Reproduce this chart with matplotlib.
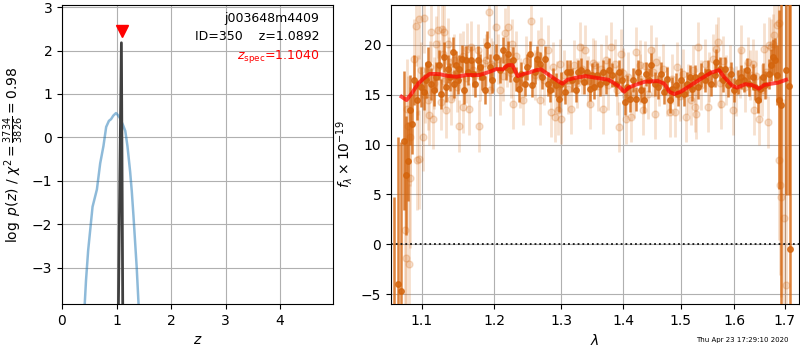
import matplotlib
matplotlib.use("Agg")
import matplotlib.pyplot as plt
from matplotlib.ticker import NullLocator, FixedLocator

# ---------------- Left panel data: p(z) ----------------
blue_z = [0.41, 0.44, 0.48, 0.52, 0.56, 0.60, 0.64, 0.70, 0.76, 0.81, 0.86,
          0.90, 0.94, 0.99, 1.02, 1.06, 1.12, 1.16, 1.20, 1.25, 1.28, 1.31,
          1.34, 1.37, 1.41]
blue_logp = [-4.0, -3.3, -2.6, -2.1, -1.6, -1.4, -1.2, -0.6, -0.2, 0.24, 0.38,
             0.42, 0.50, 0.56, 0.52, 0.45, 0.28, 0.15, -0.2, -0.8, -1.25, -1.8,
             -2.4, -3.0, -4.0]
spike_z = [1.033, 1.0892, 1.114]
spike_logp = [-4.0, 2.18, -4.0]
z_spec = 1.1040
z_spec_marker_y = 2.45
field_name = "j003648m4409"
obj_id = 350
z_best = 1.0892

# ---------------- Right panel data: spectrum ----------------
bin_wave = [1.0641, 1.0692, 1.0727, 1.0769, 1.0791, 1.0823, 1.0841, 1.0873, 1.0899,
            1.0935, 1.0987, 1.1031, 1.1053, 1.1084, 1.1119, 1.1156, 1.1186, 1.1223,
            1.1254, 1.1290, 1.1321, 1.1344, 1.1379, 1.1412, 1.1434, 1.1457, 1.1480,
            1.1502, 1.1536, 1.1563, 1.1595, 1.1627, 1.1665, 1.1689, 1.1721, 1.1759,
            1.1795, 1.1829, 1.1866, 1.1900, 1.1933, 1.1972, 1.2029, 1.2077, 1.2125,
            1.2165, 1.2198, 1.2233, 1.2272, 1.2311, 1.2360, 1.2395, 1.2445, 1.2479,
            1.2530, 1.2560, 1.2595, 1.2629, 1.2670, 1.2711, 1.2746, 1.2796, 1.2833,
            1.2873, 1.2926, 1.2966, 1.3003, 1.3055, 1.3091, 1.3133, 1.3176, 1.3228,
            1.3264, 1.3318, 1.3360, 1.3408, 1.3452, 1.3496, 1.3517, 1.3570, 1.3614,
            1.3668, 1.3724, 1.3767, 1.3823, 1.3878, 1.3932, 1.3989, 1.4028, 1.4066,
            1.4124, 1.4168, 1.4214, 1.4253, 1.4311, 1.4351, 1.4397, 1.4442, 1.4484,
            1.4541, 1.4598, 1.4658, 1.4698, 1.4756, 1.4804, 1.4852, 1.4911, 1.4953,
            1.5014, 1.5060, 1.5114, 1.5163, 1.5212, 1.5255, 1.5315, 1.5377, 1.5439,
            1.5500, 1.5563, 1.5625, 1.5656, 1.5718, 1.5780, 1.5831, 1.5875, 1.5940,
            1.6003, 1.6067, 1.6132, 1.6196, 1.6241, 1.6293, 1.6358, 1.6411, 1.6456,
            1.6503, 1.6555, 1.6609, 1.6674, 1.6722, 1.6768, 1.6808, 1.6835, 1.6875,
            1.6923, 1.7017, 1.7087, 1.7108]
bin_flux = [-6.8, -3.95, -4.7, 10.4, 6.9, 8.3, 13.45, 12.1, 16.5,
            14.5, 15.8, 15.3, 16.5, 18.1, 16.1, 15.5, 16.8, 18.0,
            15.1, 18.8, 15.8, 17.6, 16.8, 19.3, 16.1, 18.0, 16.5,
            17.6, 18.6, 15.5, 18.5, 17.3, 18.5, 17.1, 16.1, 18.5,
            17.8, 16.8, 15.5, 20.0, 17.8, 16.5, 18.8, 17.5, 19.5,
            17.8, 19.1, 17.5, 18.5, 16.6, 15.6, 17.1, 16.1, 17.8,
            19.1, 16.0, 17.3, 18.6, 18.1, 16.8, 18.6, 16.1, 15.5,
            16.5, 16.0, 14.6, 16.1, 15.3, 17.3, 17.3, 16.5, 15.5,
            17.3, 17.5, 16.3, 17.3, 15.6, 17.0, 15.8, 17.0, 16.1,
            17.3, 16.3, 17.5, 17.0, 16.1, 17.3, 16.5, 14.3, 15.8,
            14.6, 16.5, 14.6, 17.3, 15.5, 14.5, 17.1, 16.5, 18.0,
            16.1, 15.8, 17.1, 15.3, 16.6, 14.5, 15.6, 16.0, 15.1,
            16.5, 15.1, 16.1, 16.8, 15.6, 16.8, 15.8, 17.0, 16.5,
            17.3, 16.1, 17.0, 18.3, 17.6, 16.5, 17.6, 16.0, 17.1,
            15.5, 16.3, 16.8, 16.5, 17.5, 16.1, 16.8, 15.8, 14.5,
            15.6, 16.8, 16.0, 17.1, 18.0, 18.8, 18.5, 17.0, 14.5,
            14.0, 17.5, 15.9, -0.5]
bin_err = [11.5, 14.7, 15.0, 7.0, 6.0, 4.0, 3.5, 3.0, 2.5,
           2.0, 2.0, 1.8, 1.8, 1.7, 1.6, 1.6, 1.5, 1.5,
           1.5, 1.5, 1.5, 1.4, 1.4, 1.5, 1.4, 1.4, 1.4,
           1.4, 1.4, 1.4, 1.4, 1.3, 1.4, 1.3, 1.3, 1.4,
           1.3, 1.3, 1.4, 1.4, 1.3, 1.3, 1.3, 1.3, 1.3,
           1.3, 1.3, 1.2, 1.3, 1.2, 1.3, 1.2, 1.2, 1.3,
           1.3, 1.2, 1.2, 1.3, 1.2, 1.2, 1.3, 1.2, 1.2,
           1.2, 1.2, 1.3, 1.2, 1.2, 1.2, 1.2, 1.2, 1.2,
           1.2, 1.2, 1.2, 1.2, 1.2, 1.2, 1.2, 1.2, 1.2,
           1.2, 1.2, 1.2, 1.2, 1.2, 1.2, 1.2, 1.3, 1.2,
           1.3, 1.2, 1.2, 1.2, 1.2, 1.3, 1.2, 1.2, 1.2,
           1.2, 1.2, 1.2, 1.2, 1.2, 1.3, 1.2, 1.2, 1.2,
           1.2, 1.2, 1.2, 1.2, 1.2, 1.2, 1.2, 1.2, 1.2,
           1.2, 1.2, 1.2, 1.3, 1.2, 1.2, 1.2, 1.2, 1.2,
           1.2, 1.2, 1.2, 1.2, 1.2, 1.2, 1.3, 1.3, 1.3,
           1.3, 1.4, 1.4, 1.5, 1.6, 1.8, 2.2, 3.0, 9.0,
           20.0, 12.6, 11.0, 30.0]

raw_wave = [1.0779, 1.0791, 1.0834, 1.0843, 1.0804, 1.0821, 1.0847, 1.0899, 1.0922,
            1.0939, 1.0965, 1.0968, 1.1009, 1.1022, 1.1075, 1.1096, 1.1119, 1.1142,
            1.1186, 1.1209, 1.1254, 1.1263, 1.1276, 1.1298, 1.1321, 1.1344, 1.1389,
            1.1434, 1.1502, 1.1509, 1.1549, 1.1618, 1.1641, 1.1665, 1.1759, 1.1781,
            1.1877, 1.1923, 1.1947, 1.1933, 1.2029, 1.2077, 1.2150, 1.2198, 1.2248,
            1.2272, 1.2419, 1.2545, 1.2670, 1.2696, 1.2796, 1.2848, 1.2899, 1.2951,
            1.2977, 1.3003, 1.3160, 1.3291, 1.3372, 1.3452, 1.3533, 1.3668, 1.3724,
            1.3806, 1.3932, 1.3972, 1.4056, 1.4141, 1.4226, 1.4282, 1.4339, 1.4484,
            1.4541, 1.4570, 1.4804, 1.4894, 1.4935, 1.5104, 1.5194, 1.5255, 1.5286,
            1.5315, 1.5500, 1.5656, 1.5687, 1.5750, 1.5971, 1.6132, 1.6261, 1.6358,
            1.6391, 1.6489, 1.6588, 1.6654, 1.6688, 1.6722, 1.6754, 1.6788, 1.6835,
            1.6889, 1.6890, 1.6899, 1.6923, 1.6991, 1.7025,
            1.0950, 1.0990, 1.1045, 1.1110, 1.1160, 1.1230, 1.1300, 1.1360, 1.1420,
            1.1470, 1.1550, 1.1600, 1.1700, 1.1800, 1.1850, 1.1980, 1.2050, 1.2120,
            1.2180, 1.2240, 1.2320, 1.2380, 1.2460, 1.2600, 1.2640, 1.2740, 1.2870,
            1.2930, 1.3040, 1.3100, 1.3200, 1.3250, 1.3330, 1.3420, 1.3500, 1.3580,
            1.3640, 1.3750, 1.3860, 1.3900, 1.4000, 1.4090, 1.4180, 1.4280, 1.4380,
            1.4420, 1.4520, 1.4620, 1.4680, 1.4760, 1.4850, 1.4990, 1.5040, 1.5130,
            1.5220, 1.5380, 1.5450, 1.5530, 1.5600, 1.5720, 1.5790, 1.5850, 1.5920,
            1.6030, 1.6100, 1.6200, 1.6300, 1.6420, 1.6530, 1.6620]
raw_flux = [1.4, -1.4, -2.0, 6.6, 13.6, 11.9, 10.8, 18.6, 21.9,
            8.4, 8.5, 22.6, 10.8, 22.7, 14.5, 12.95, 21.3, 12.6,
            20.1, 21.5, 14.3, 21.6, 19.1, 21.3, 13.45, 20.1, 14.6,
            18.5, 11.9, 18.6, 13.8, 19.6, 13.6, 19.8, 19.5, 11.9,
            18.5, 23.3, 18.1, 15.5, 21.8, 15.5, 21.2, 21.8, 20.1,
            14.1, 14.5, 22.4, 14.5, 20.3, 19.5, 13.3, 12.8, 13.45,
            18.1, 12.6, 13.6, 19.8, 19.5, 14.1, 18.0, 13.6, 18.5,
            19.8, 11.8, 19.1, 12.6, 12.8, 19.3, 18.0, 13.45, 19.5,
            13.1, 18.3, 13.3, 13.3, 17.8, 12.8, 14.5, 13.8, 13.1,
            19.8, 13.8, 19.6, 20.3, 14.1, 13.45, 19.5, 18.3, 18.1,
            13.45, 12.6, 19.6, 12.3, 20.0, 19.8, 20.1, 21.0, 22.0,
            22.2, 8.4, 5.9, 4.75, 2.6, -4.1,
            16.0, 17.5, 15.0, 17.8, 16.2, 17.9, 16.4, 18.3, 17.0,
            15.8, 18.9, 16.7, 17.5, 16.9, 18.2, 17.9, 18.6, 16.9,
            18.3, 17.2, 18.9, 16.2, 18.4, 17.0, 19.0, 16.5, 17.8,
            15.9, 17.0, 15.6, 18.0, 16.2, 17.6, 16.4, 18.2, 15.9,
            17.6, 16.0, 18.1, 15.5, 17.2, 16.8, 15.2, 16.6, 17.9,
            15.1, 17.3, 16.4, 17.6, 15.4, 16.6, 14.9, 17.1, 15.6,
            17.5, 16.0, 18.1, 16.8, 18.6, 16.2, 18.4, 16.5, 17.5,
            15.4, 17.2, 15.8, 17.0, 16.9, 15.5, 17.3]
raw_err = [9.0, 8.0, 8.0, 7.0, 5.0, 5.0, 5.0, 4.0, 4.0,
           5.0, 5.0, 4.0, 3.5, 3.5, 3.0, 3.0, 3.0, 3.0,
           2.8, 2.8, 2.8, 2.8, 2.8, 2.8, 2.8, 2.6, 2.6,
           2.6, 2.6, 2.6, 2.6, 2.6, 2.6, 2.6, 2.6, 2.6,
           2.6, 2.6, 2.6, 2.6, 2.5, 2.5, 2.5, 2.5, 2.5,
           2.5, 2.5, 2.5, 2.5, 2.5, 2.5, 2.5, 2.5, 2.5,
           2.5, 2.5, 2.5, 2.5, 2.5, 2.5, 2.5, 2.5, 2.5,
           2.5, 2.5, 2.5, 2.5, 2.5, 2.5, 2.5, 2.5, 2.5,
           2.5, 2.5, 2.5, 2.5, 2.5, 2.5, 2.5, 2.5, 2.5,
           2.5, 2.5, 2.5, 2.5, 2.5, 2.5, 2.5, 2.5, 2.5,
           2.5, 2.6, 2.6, 2.6, 2.8, 2.8, 3.0, 3.2, 3.5,
           4.0, 8.0, 9.0, 10.0, 12.0, 14.0,
           3.0, 2.8, 2.8, 2.6, 2.6, 2.6, 2.6, 2.5, 2.5,
           2.5, 2.5, 2.5, 2.5, 2.5, 2.5, 2.5, 2.5, 2.5,
           2.5, 2.5, 2.5, 2.5, 2.5, 2.5, 2.5, 2.5, 2.5,
           2.5, 2.5, 2.5, 2.5, 2.5, 2.5, 2.5, 2.5, 2.5,
           2.5, 2.5, 2.5, 2.5, 2.5, 2.5, 2.5, 2.5, 2.5,
           2.5, 2.5, 2.5, 2.5, 2.5, 2.5, 2.5, 2.5, 2.5,
           2.5, 2.5, 2.5, 2.5, 2.5, 2.5, 2.5, 2.5, 2.5,
           2.5, 2.5, 2.5, 2.5, 2.6, 2.6, 2.6]

model_wave = [1.0735, 1.0799, 1.0864, 1.095, 1.1017, 1.1106, 1.124, 1.1329, 1.1465,
              1.160, 1.1786, 1.193, 1.2026, 1.212, 1.2197, 1.226, 1.234, 1.242,
              1.2518, 1.2617, 1.269, 1.2793, 1.292, 1.302, 1.310, 1.323, 1.3387,
              1.3546, 1.376, 1.392, 1.402, 1.4088, 1.420, 1.437, 1.460, 1.4713,
              1.480, 1.4889, 1.5005, 1.519, 1.537, 1.5555, 1.571, 1.58, 1.596,
              1.605, 1.6215, 1.6348, 1.648, 1.658, 1.672, 1.6857, 1.7025]
model_flux = [14.8, 14.46, 15.1, 16.1, 16.6, 17.1, 17.06, 16.9, 16.8,
              16.97, 16.97, 17.3, 17.57, 17.54, 17.97, 17.97, 16.87, 17.07,
              17.24, 17.47, 17.54, 17.07, 16.5, 16.1, 16.5, 16.7, 16.87,
              16.7, 16.5, 15.9, 15.3, 15.7, 15.96, 16.3, 16.37, 16.1,
              15.3, 15.06, 15.3, 15.96, 16.6, 17.2, 17.47, 16.8, 15.9,
              15.7, 16.06, 15.96, 15.6, 15.96, 16.1, 16.2, 16.5]

wave_ticks = [1.1, 1.2, 1.3, 1.4, 1.5, 1.6, 1.7]
wave_ticklabels = ["1.1", "1.2", "1.3", "1.4", "1.5", "1.6", "1.7"]
timestamp = "Thu Apr 23 17:29:10 2020"

orange = "#d4640c"

fig = plt.figure(figsize=(8, 3.5), dpi=100)
ax1 = fig.add_axes([0.0775, 0.1314, 0.3388, 0.8543])
ax2 = fig.add_axes([0.48875, 0.1314, 0.5100, 0.8543])

# ---- left panel ----
ax1.plot(blue_z, blue_logp, color="#1f77b4", alpha=0.5, lw=1.8)
ax1.plot(spike_z, spike_logp, color="0.25", lw=2)
ax1.plot([z_spec], [z_spec_marker_y], marker="v", color="r", ms=8, ls="none")
ax1.set_xlim(0, 4.97)
ax1.set_ylim(-3.84, 3.05)
ax1.set_xticks([0, 1, 2, 3, 4])
ax1.set_yticks([-3, -2, -1, 0, 1, 2, 3])
ax1.grid(True)
ax1.set_axisbelow(True)
ax1.set_xlabel(r"$z$")
ax1.set_ylabel(r"$\log\ p(z)$ / $\chi^2=\frac{3734}{3826}=0.98$")
ax1.text(0.95, 0.975, field_name, transform=ax1.transAxes, ha="right", va="top",
         fontsize=9)
ax1.text(0.95, 0.915, f"ID={obj_id}    z={z_best:.4f}", transform=ax1.transAxes,
         ha="right", va="top", fontsize=9)
ax1.text(0.95, 0.855, r"$z_\mathrm{spec}$" + f"={z_spec:.4f}",
         transform=ax1.transAxes, ha="right", va="top", fontsize=9, color="r")

# ---- right panel ----
ax2.errorbar(raw_wave, raw_flux, yerr=raw_err, color=orange, alpha=0.2,
             marker="o", ms=5, ls="none", lw=2, zorder=2)
ax2.errorbar(bin_wave, bin_flux, yerr=bin_err, color=orange, alpha=0.8,
             marker="o", ms=4, ls="none", lw=1.8, zorder=3)
ax2.plot(model_wave, model_flux, color="r", lw=2.8, alpha=0.7, zorder=4)
ax2.axhline(0, color="k", ls=":", lw=1.3, alpha=0.9, zorder=5)
ax2.set_xscale("log")
ax2.set_xlim(1.060, 1.729)
ax2.set_ylim(-6, 24)
ax2.xaxis.set_major_locator(FixedLocator(wave_ticks))
ax2.set_xticklabels(wave_ticklabels)
ax2.xaxis.set_minor_locator(NullLocator())
ax2.set_yticks([-5, 0, 5, 10, 15, 20])
ax2.grid(True)
ax2.set_axisbelow(True)
ax2.set_xlabel(r"$\lambda$")
ax2.set_ylabel(r"$f_\lambda\times10^{-19}$")

fig.text(0.9275, 0.028, timestamp, ha="center", va="center", fontsize=5)

fig.savefig("out.png", dpi=100)
